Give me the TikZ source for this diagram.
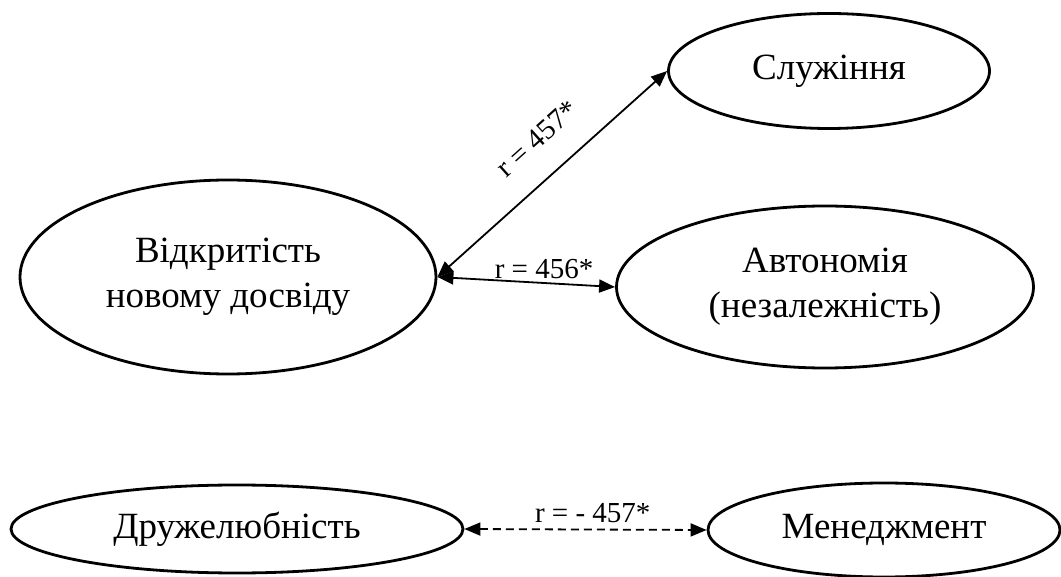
\documentclass[tikz,border=0pt]{standalone}
\usepackage{fontspec}
\setmainfont{Liberation Serif}
\usetikzlibrary{shapes.geometric,arrows.meta}

\tikzset{
  trait/.style={ellipse, draw, line width=2.8pt, inner sep=0pt, align=center,
    font=\fontsize{37}{45}\selectfont},
  link/.style={line width=1.8pt, {Triangle[length=16pt,width=13pt]}-{Triangle[length=16pt,width=13pt]}},
  dlink/.style={link, dash pattern=on 8pt off 5pt},
  corr/.style={font=\fontsize{29}{32}\selectfont, inner sep=1pt}
}

\begin{document}
\begin{tikzpicture}[x=1pt,y=-1pt]
  \useasboundingbox (0,0) rectangle (1061,577);

  % personality traits and values
  \node[trait, minimum width=416pt, minimum height=194pt] (open) at (228,277)
    {Відкритість\\новому досвіду};
  \node[trait, minimum width=321pt, minimum height=115pt] (serv) at (829,71)
    {Служіння};
  \node[trait, minimum width=417pt, minimum height=162pt] (auton) at (825,287)
    {Автономія\\(незалежність)};
  \node[trait, minimum width=452pt, minimum height=88pt] (friend) at (237,529)
    {Дружелюбність};
  \node[trait, minimum width=352pt, minimum height=94pt] (mgmt) at (884,530)
    {Менеджмент};

  % correlations
  \draw[link] (open.east) -- node[corr, sloped, above=25pt, pos=0.54] {r = 457*} (serv.west);
  \draw[link] (open.east) -- node[corr, above=2pt, pos=0.6] {r = 456*} (auton.west);
  \draw[dlink] (friend.east) -- node[corr, above=5pt, pos=0.53] {r = - 457*} (mgmt.west);
\end{tikzpicture}
\end{document}
